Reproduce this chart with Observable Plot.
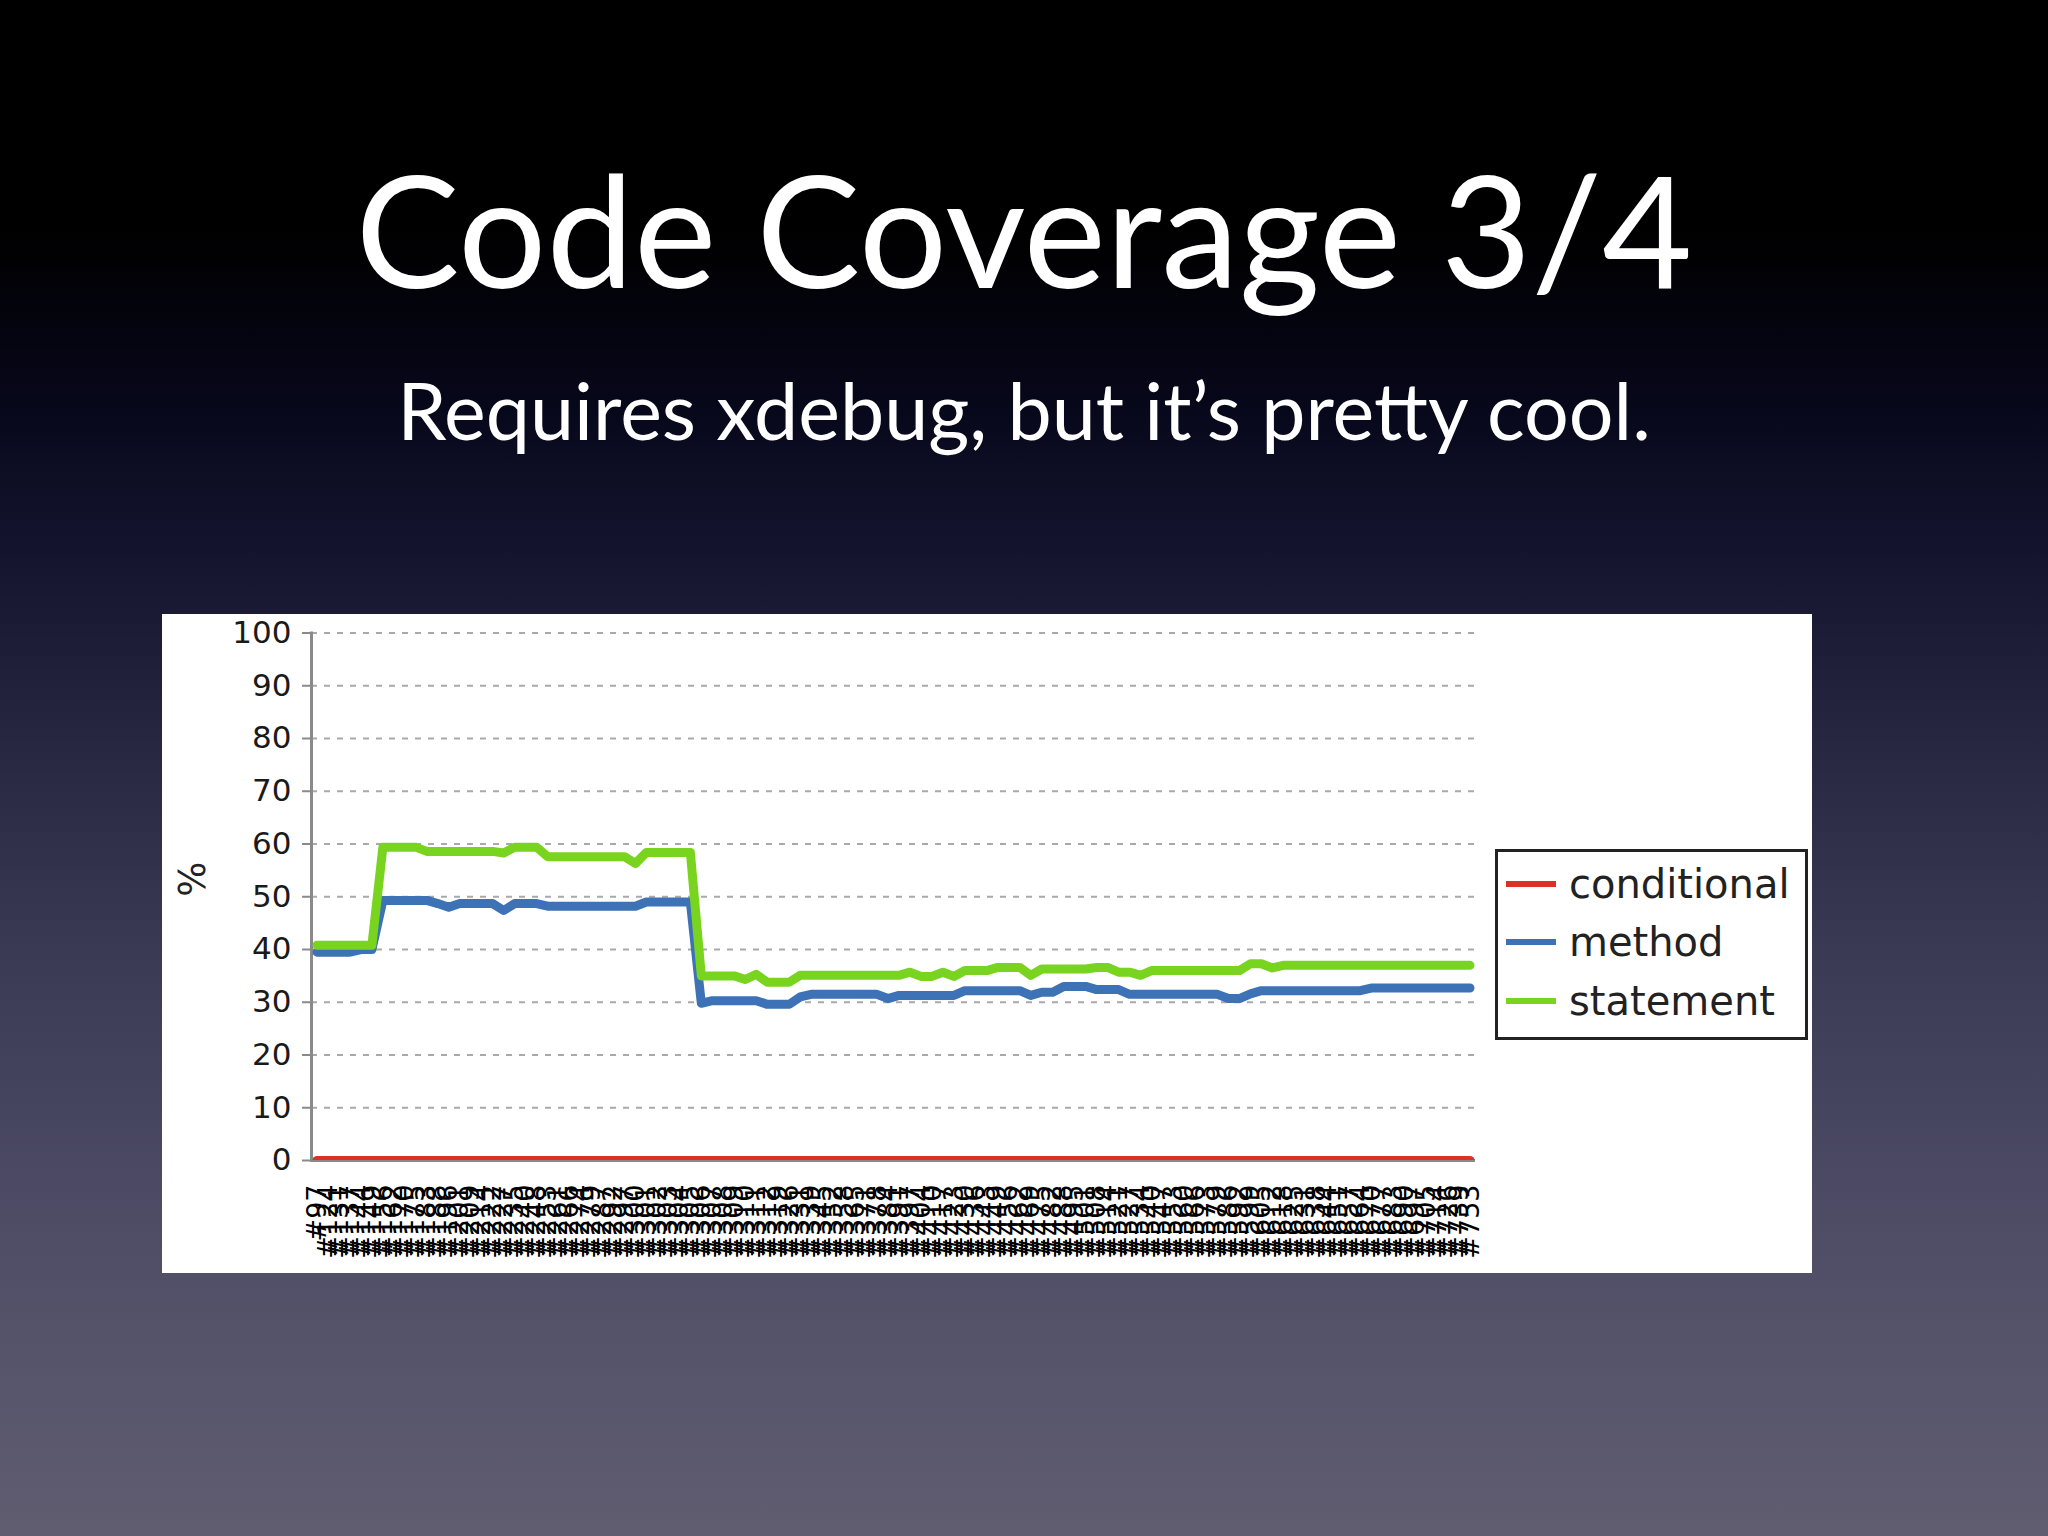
<!DOCTYPE html>
<html>
<head>
<meta charset="utf-8">
<script src="https://cdn.jsdelivr.net/npm/d3@7"></script>
<script src="https://cdn.jsdelivr.net/npm/@observablehq/plot@0.6"></script>
<style>
  html, body { margin: 0; padding: 0; }
  body {
    width: 2048px; height: 1536px; overflow: hidden; position: relative;
    background: linear-gradient(to bottom, #000 0%, #000 15%, #07071a 26%, #14142f 36%, #262640 48%, #3a3a55 62%, #4f4d66 80%, #605d71 100%);
  }
  #title {
    position: absolute; left: 0; width: 2048px; top: 150px; text-align: center;
    font-family: Lato, "Noto Sans", sans-serif; font-size: 156px; line-height: 156px; color: #fff;
  }
  #subtitle {
    position: absolute; left: 0; width: 2048px; top: 370px; text-align: center;
    font-family: Lato, "Noto Sans", sans-serif; font-size: 79px; line-height: 79px; color: #fff;
  }
  #panel {
    position: absolute; left: 162px; top: 614px; width: 1650px; height: 659px; background: #fff;
  }
  #panel svg { position: absolute; left: 0; top: 0; }
  #legend {
    position: absolute; left: 1333px; top: 235px; width: 307px; height: 185px;
    border: 3px solid #222; background: #fff;
    font-family: "DejaVu Sans", sans-serif; font-size: 40px; color: #222;
  }
  .item { position: absolute; left: 0; height: 50px; }
  .sw { position: absolute; left: 8px; width: 50px; height: 6px; }
  .lab { position: absolute; left: 71px; white-space: nowrap; line-height: 50px; top: -25px; }
</style>
</head>
<body>
<div id="title">Code Coverage 3/4</div>
<div id="subtitle">Requires xdebug, but it’s pretty cool.</div>
<div id="panel"><div id="legend"></div></div>
<script>
// ---- data ----
const builds = ["#97","#124","#131","#137","#144","#149","#156","#162","#170","#175",
  "#183","#188","#196","#201","#209","#214","#222","#227","#235","#240",
  "#248","#253","#261","#266","#274","#279","#287","#292","#297","#300",
  "#301","#302","#303","#304","#305","#306","#307","#308","#309","#310",
  "#311","#312","#319","#326","#331","#339","#345","#352","#358","#365",
  "#371","#378","#384","#391","#397","#404","#410","#417","#423","#430",
  "#436","#443","#449","#456","#462","#469","#475","#482","#488","#495",
  "#501","#508","#514","#521","#527","#534","#540","#547","#553","#560",
  "#566","#573","#579","#586","#592","#599","#605","#612","#618","#625",
  "#631","#638","#644","#651","#657","#664","#670","#677","#683","#690",
  "#697","#705","#714","#726","#739","#753"];

const conditional = [0,0,0,0,0,0,0,0,0,0, 0,0,0,0,0,0,0,0,0,0,
  0,0,0,0,0,0,0,0,0,0, 0,0,0,0,0,0,0,0,0,0,
  0,0,0,0,0,0,0,0,0,0, 0,0,0,0,0,0,0,0,0,0,
  0,0,0,0,0,0,0,0,0,0, 0,0,0,0,0,0,0,0,0,0,
  0,0,0,0,0,0,0,0,0,0, 0,0,0,0,0,0,0,0,0,0,
  0,0,0,0,0,0];

const method = [39.5,39.5,39.5,39.5,40.0,40.0,49.3,49.3,49.3,49.3,
  49.3,48.7,48.0,48.7,48.7,48.7,48.7,47.4,48.7,48.7,
  48.7,48.2,48.2,48.2,48.2,48.2,48.2,48.2,48.2,48.2,
  49.0,49.0,49.0,49.0,49.0,29.8,30.3,30.3,30.3,30.3,
  30.3,29.6,29.6,29.6,31.0,31.5,31.5,31.5,31.5,31.5,
  31.5,31.5,30.7,31.3,31.3,31.3,31.3,31.3,31.3,32.2,
  32.2,32.2,32.2,32.2,32.2,31.3,31.9,31.9,33.0,33.0,
  33.0,32.4,32.4,32.4,31.5,31.5,31.5,31.5,31.5,31.5,
  31.5,31.5,31.5,30.7,30.7,31.6,32.2,32.2,32.2,32.2,
  32.2,32.2,32.2,32.2,32.2,32.2,32.7,32.7,32.7,32.7,
  32.7,32.7,32.7,32.7,32.7,32.7];

const statement = [40.8,40.8,40.8,40.8,40.8,40.8,59.4,59.4,59.4,59.4,
  58.6,58.6,58.6,58.6,58.6,58.6,58.6,58.3,59.4,59.4,
  59.4,57.6,57.6,57.6,57.6,57.6,57.6,57.6,57.6,56.3,
  58.4,58.4,58.4,58.4,58.4,35.0,35.0,35.0,35.0,34.3,
  35.3,33.8,33.8,33.8,35.1,35.1,35.1,35.1,35.1,35.1,
  35.1,35.1,35.1,35.1,35.7,34.9,34.9,35.7,34.9,36.0,
  36.0,36.0,36.6,36.6,36.6,35.1,36.3,36.3,36.3,36.3,
  36.3,36.6,36.6,35.7,35.7,35.1,36.0,36.0,36.0,36.0,
  36.0,36.0,36.0,36.0,36.0,37.3,37.3,36.5,37.0,37.0,
  37.0,37.0,37.0,37.0,37.0,37.0,37.0,37.0,37.0,37.0,
  37.0,37.0,37.0,37.0,37.0,37.0];

const seriesNames = ["conditional", "method", "statement"];
const seriesColors = ["#dc3226", "#3d72b6", "#79d41f"];
const yTicks = [0, 10, 20, 30, 40, 50, 60, 70, 80, 90, 100];

// ---- build table ----
const seriesValues = {conditional, method, statement};
const rows = [];
for (const s of seriesNames) {
  seriesValues[s].forEach((v, i) => rows.push({build: builds[i], series: s, value: v}));
}

const chart = Plot.plot({
  width: 1650,
  height: 659,
  marginLeft: 149,
  marginRight: 337,
  marginTop: 18.5,
  marginBottom: 113,
  style: {background: "transparent", fontFamily: "DejaVu Sans, sans-serif", color: "#222"},
  x: {type: "point", domain: builds, padding: 0.5, label: null},
  y: {domain: [0, 100], label: null},
  color: {domain: seriesNames, range: seriesColors},
  marks: [
    Plot.ruleY(yTicks, {stroke: "#a9a9a9", strokeWidth: 2, strokeDasharray: "6,7"}),
    Plot.frame({anchor: "left", stroke: "#8a8a8a", strokeWidth: 3}),
    Plot.ruleY([0], {stroke: "#8a8a8a", strokeWidth: 3}),
    Plot.axisY({ticks: yTicks, tickSize: 9, tickPadding: 11, fontSize: 31, label: null, stroke: "#8a8a8a", strokeWidth: 2, fill: "#1a1a1a"}),
    Plot.axisX({ticks: builds, tickRotate: -90, tickSize: 0, tickPadding: 24, fontSize: 27, label: null, fill: "#000"}),
    Plot.text(["%"], {frameAnchor: "left", dx: -118, rotate: -90, fontSize: 37, fill: "#222"}),
    Plot.line(rows, {x: "build", y: "value", z: "series", stroke: "series", strokeWidth: 9, clip: true})
  ]
});
document.getElementById("panel").insertBefore(chart, document.getElementById("legend"));

// ---- legend ----
const legend = document.getElementById("legend");
const legendY = [32, 90, 149];
seriesNames.forEach((name, i) => {
  const item = document.createElement("div");
  item.className = "item";
  item.style.top = legendY[i] + "px";
  item.innerHTML = `<div class="sw" style="background:${seriesColors[i]};top:-3px"></div><div class="lab">${name}</div>`;
  legend.appendChild(item);
});
</script>
</body>
</html>
